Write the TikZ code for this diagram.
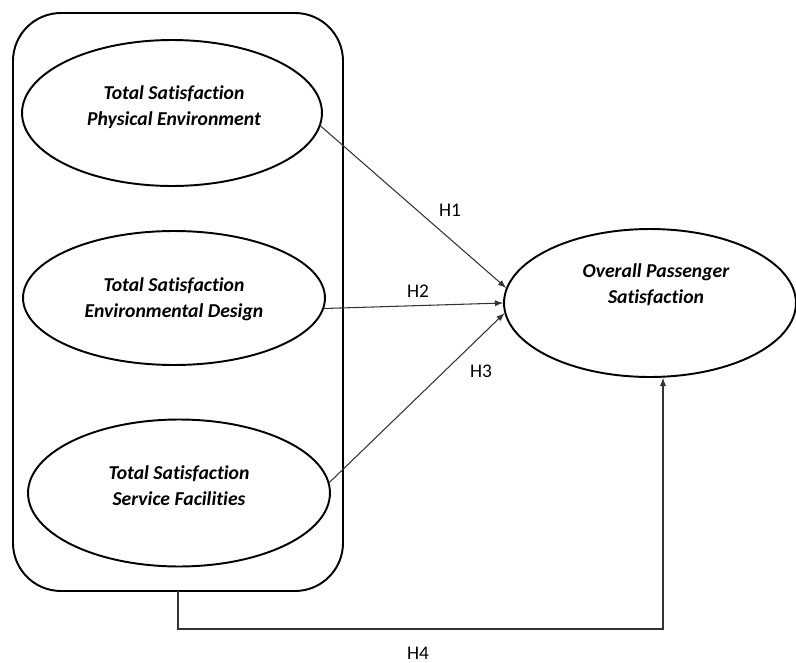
\documentclass[tikz,border=0pt]{standalone}
\usepackage{fontspec}
\setmainfont[RawFeature=-liga]{Carlito}
\usepackage{tikz}
\usetikzlibrary{arrows,shapes.geometric}

\begin{document}
\begin{tikzpicture}[x=0.02cm,y=-0.02cm,
    factor/.style={draw,ellipse,line width=1.1pt,inner sep=0pt},
    factxt/.style={align=center,font=\fontsize{11.2}{14.8}\selectfont\bfseries\itshape},
    hyp/.style={font=\fontsize{11}{12}\selectfont,inner sep=1pt},
    link/.style={line width=0.6pt,black!80,-latex}]
       \useasboundingbox (0,0) rectangle (796,663);
       \draw[line width=1.1pt,rounded corners=0.96cm] (13,13) rectangle (343,591);
       \coordinate (boxbot) at (178,591);
       % the three factors
       \node[factor,minimum width=6cm,minimum height=2.92cm] (phys) at (172,113) {};
       \node[factor,minimum width=6.04cm,minimum height=2.68cm] (envd) at (174,298) {};
       \node[factor,minimum width=6.04cm,minimum height=2.94cm] (serv) at (179,493) {};
       \node[factor,minimum width=5.84cm,minimum height=2.96cm] (overall) at (650,303) {};
       \node[factxt] (physt) at (174,107) {Total Satisfaction\\Physical Environment};
       \node[factxt] (envdt) at (174,299) {Total Satisfaction\\Environmental Design};
       \node[factxt] (servt) at (179,486) {Total Satisfaction\\Service Facilities};
       \node[factxt] (overallt) at (656,285) {Overall Passenger\\Satisfaction};
       % hypotheses
       \draw[link] (phys.-5) -- (overall.174);
       \draw[link] (envd.-4) -- (overall.180);
       \draw[link] (serv.4) -- (overall.184);
       \coordinate (h4turn) at (663,629);
       \draw[link] (boxbot) |- (h4turn) -- (h4turn |- overall.south);
       \node[hyp] (h1) at (450,210) {H1};
       \node[hyp] (h2) at (418,291) {H2};
       \node[hyp] (h3) at (481,371) {H3};
       \node[hyp] (h4) at (418,653) {H4};
      \end{tikzpicture}
\end{document}
